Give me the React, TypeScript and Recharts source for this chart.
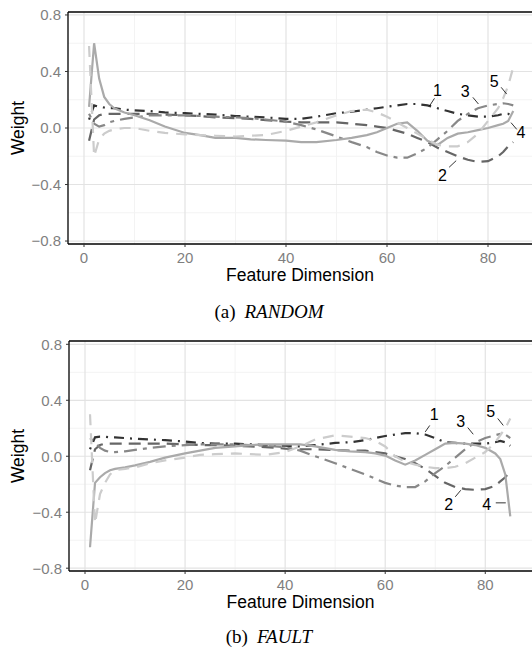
import React from "react";
import {
    LineChart, Line, XAxis, YAxis, CartesianGrid, ReferenceLine, ReferenceDot
} from "recharts";

// feature dimensions sampled along each curve
const DIMS = [1, 2, 3, 4, 5, 6, 8, 10, 13, 16, 20, 23, 26, 30, 33, 36, 40, 43, 46, 50, 53, 56, 58, 60, 62, 64, 66, 68, 70, 72, 74, 76, 78, 80, 82, 83, 84, 85];

// (a) RANDOM - weights of the five components
const RANDOM_1 = [0.06, 0.16, 0.15, 0.145, 0.14, 0.14, 0.13, 0.125, 0.12, 0.11, 0.105, 0.1, 0.095, 0.085, 0.08, 0.075, 0.065, 0.065, 0.08, 0.105, 0.115, 0.13, 0.14, 0.15, 0.16, 0.17, 0.17, 0.16, 0.14, 0.12, 0.1, 0.09, 0.08, 0.08, 0.09, 0.1, 0.1, 0.08];
const RANDOM_2 = [-0.09, 0.06, 0.09, 0.1, 0.1, 0.1, 0.1, 0.1, 0.1, 0.095, 0.09, 0.085, 0.075, 0.07, 0.065, 0.055, 0.045, 0.04, 0.04, 0.04, 0.03, 0.02, 0.01, 0.0, -0.02, -0.04, -0.07, -0.1, -0.14, -0.17, -0.2, -0.225, -0.24, -0.235, -0.2, -0.17, -0.13, -0.1];
const RANDOM_3 = [0.1, 0.03, 0.01, 0.02, 0.04, 0.05, 0.065, 0.075, 0.09, 0.09, 0.09, 0.085, 0.08, 0.075, 0.07, 0.06, 0.045, 0.02, -0.01, -0.06, -0.1, -0.135, -0.17, -0.195, -0.21, -0.21, -0.18, -0.14, -0.08, -0.02, 0.05, 0.1, 0.14, 0.16, 0.17, 0.175, 0.17, 0.16];
const RANDOM_4 = [0.15, 0.6, 0.35, 0.22, 0.17, 0.14, 0.11, 0.09, 0.055, 0.01, -0.035, -0.05, -0.07, -0.07, -0.08, -0.085, -0.09, -0.1, -0.1, -0.085, -0.07, -0.05, -0.03, 0.0, 0.03, 0.04, -0.02, -0.09, -0.12, -0.07, -0.04, -0.03, -0.015, 0.0, 0.02, 0.03, 0.05, 0.12];
const RANDOM_5 = [0.58, -0.2, -0.08, -0.04, -0.02, -0.01, 0.0, 0.0, -0.02, -0.035, -0.045, -0.05, -0.055, -0.06, -0.055, -0.05, -0.02, 0.01, 0.04, 0.09, 0.12, 0.13, 0.11, 0.08, 0.04, 0.0, -0.04, -0.08, -0.12, -0.13, -0.13, -0.1, -0.04, 0.05, 0.14, 0.21, 0.3, 0.43];

// (b) FAULT
const FAULT_1 = [0.05, 0.135, 0.14, 0.14, 0.135, 0.135, 0.13, 0.125, 0.12, 0.115, 0.105, 0.095, 0.09, 0.09, 0.085, 0.08, 0.075, 0.07, 0.08, 0.095, 0.1, 0.115, 0.13, 0.145, 0.155, 0.165, 0.165, 0.155, 0.13, 0.1, 0.095, 0.09, 0.09, 0.09, 0.1, 0.11, 0.1, 0.075];
const FAULT_2 = [-0.1, 0.05, 0.08, 0.09, 0.09, 0.09, 0.09, 0.09, 0.09, 0.09, 0.085, 0.08, 0.08, 0.075, 0.07, 0.065, 0.055, 0.05, 0.05, 0.045, 0.04, 0.04, 0.03, 0.02, 0.0, -0.02, -0.05, -0.09, -0.14, -0.19, -0.22, -0.235, -0.24, -0.235, -0.21, -0.18, -0.15, -0.11];
const FAULT_3 = [0.13, 0.1, 0.06, 0.04, 0.03, 0.03, 0.035, 0.045, 0.06, 0.07, 0.08, 0.085, 0.085, 0.085, 0.08, 0.075, 0.065, 0.04, 0.0, -0.05, -0.09, -0.13, -0.16, -0.19, -0.21, -0.22, -0.22, -0.18, -0.12, -0.07, -0.01, 0.05, 0.1, 0.13, 0.15, 0.16, 0.155, 0.13];
const FAULT_4 = [-0.65, -0.19, -0.15, -0.12, -0.1, -0.09, -0.08, -0.065, -0.04, -0.01, 0.02, 0.04, 0.06, 0.07, 0.08, 0.085, 0.085, 0.085, 0.07, 0.045, 0.035, 0.03, 0.02, 0.005, -0.03, -0.06, -0.03, 0.01, 0.05, 0.09, 0.095, 0.09, 0.08, 0.06, 0.02, -0.02, -0.13, -0.43];
const FAULT_5 = [0.3, -0.48, -0.27, -0.19, -0.13, -0.1, -0.09, -0.08, -0.05, -0.03, -0.01, 0.01, 0.015, 0.02, 0.015, 0.01, 0.03, 0.07, 0.12, 0.15, 0.14, 0.13, 0.11, 0.07, 0.0, -0.04, -0.06, -0.075, -0.085, -0.085, -0.075, -0.05, -0.01, 0.03, 0.1, 0.15, 0.2, 0.27];

const X_TICKS = [0, 20, 40, 60, 80];
const X_MINOR = [10, 30, 50, 70];
const Y_TICKS = [-0.8, -0.4, 0, 0.4, 0.8];
const Y_MINOR = [-0.6, -0.2, 0.2, 0.6];

// direct labels "1".."5" and their leader ticks, in data units
const RANDOM_NOTES = [
    { text: "1", x: 70.0, y: 0.27, from: [69.4, 0.21], to: [68.4, 0.155] },
    { text: "3", x: 75.5, y: 0.262, from: [77.0, 0.217], to: [78.1, 0.17] },
    { text: "5", x: 81.25, y: 0.333, from: [82.6, 0.288], to: [83.7, 0.24] },
    { text: "4", x: 86.5, y: -0.032, from: [84.55, 0.038], to: [85.7, -0.01] },
    { text: "2", x: 71.0, y: -0.333, from: [72.3, -0.278], to: [73.7, -0.231] },
];
const FAULT_NOTES = [
    { text: "1", x: 69.8, y: 0.3, from: [68.9, 0.22], to: [68.0, 0.174] },
    { text: "3", x: 75.1, y: 0.25, from: [76.5, 0.205], to: [77.6, 0.157] },
    { text: "5", x: 81.1, y: 0.318, from: [82.5, 0.27], to: [83.6, 0.22] },
    { text: "2", x: 72.7, y: -0.34, from: [74.0, -0.29], to: [75.1, -0.243] },
    { text: "4", x: 80.3, y: -0.34, from: [82.1, -0.333], to: [84.1, -0.333] },
];

const SERIES = [
    { key: "s1", stroke: "#333333", dash: "2 6 10 6" },
    { key: "s2", stroke: "#666666", dash: "12 7" },
    { key: "s3", stroke: "#888888", dash: "4 6 13 6" },
    { key: "s4", stroke: "#aaaaaa", dash: undefined },
    { key: "s5", stroke: "#cccccc", dash: "11 8" },
];

const SANS = '"Liberation Sans", Arial, Helvetica, sans-serif';

const toRows = (xs: number[], ...cols: number[][]) =>
    xs.map((x, i) => ({ x, s1: cols[0][i], s2: cols[1][i], s3: cols[2][i], s4: cols[3][i], s5: cols[4][i] }));

const fmtWeight = (v: number) => (v === 0 ? "0.0" : (v < 0 ? "\u2212" : "") + Math.abs(v).toFixed(1));

// eslint-disable-next-line @typescript-eslint/no-explicit-any
function WeightPanel({ data, xDomain, yDomain, yAxisWidth, height, labelOffset, notes }: any) {
    return (
        <LineChart width={532} height={height} data={data} margin={{ top: 12, right: 0, bottom: 6, left: 0 }}>
            <CartesianGrid horizontalValues={Y_MINOR} verticalValues={X_MINOR} stroke="#f3f3f3" strokeWidth={1} />
            <CartesianGrid horizontalValues={Y_TICKS} verticalValues={X_TICKS} stroke="#e3e3e3" strokeWidth={1.2} />
            <XAxis
                type="number"
                dataKey="x"
                domain={xDomain}
                allowDataOverflow
                ticks={X_TICKS}
                height={40}
                tickSize={3}
                tickMargin={5}
                axisLine={{ stroke: "#000", strokeWidth: 1.3 }}
                tickLine={{ stroke: "#333" }}
                tick={{ fontSize: 15, fill: "#7f7f7f", fontFamily: SANS }}
                label={{ value: "Feature Dimension", position: "insideBottom", offset: labelOffset, fill: "#000", fontSize: 17.5, fontFamily: SANS }}
            />
            <YAxis
                type="number"
                domain={yDomain}
                allowDataOverflow
                ticks={Y_TICKS}
                width={yAxisWidth}
                tickSize={3}
                tickMargin={4}
                tickFormatter={fmtWeight}
                axisLine={{ stroke: "#000", strokeWidth: 1.3 }}
                tickLine={{ stroke: "#333" }}
                tick={{ fontSize: 15, fill: "#7f7f7f", fontFamily: SANS }}
                label={{ value: "Weight", angle: -90, position: "insideLeft", offset: 18, fill: "#000", fontSize: 17.5, fontFamily: SANS, style: { textAnchor: "middle" } }}
            />
            <ReferenceLine y={yDomain[1]} stroke="#000" strokeWidth={1.3} ifOverflow="visible" />
            {SERIES.map((s) => (
                <Line
                    key={s.key}
                    type="linear"
                    dataKey={s.key}
                    stroke={s.stroke}
                    strokeWidth={2.2}
                    strokeDasharray={s.dash}
                    dot={false}
                    activeDot={false}
                    isAnimationActive={false}
                />
            ))}
            {/* eslint-disable-next-line @typescript-eslint/no-explicit-any */}
            {notes.map((n: any) => (
                <ReferenceLine
                    key={`seg-${n.text}`}
                    segment={[{ x: n.from[0], y: n.from[1] }, { x: n.to[0], y: n.to[1] }]}
                    stroke="#000"
                    strokeWidth={0.8}
                    ifOverflow="visible"
                />
            ))}
            {/* eslint-disable-next-line @typescript-eslint/no-explicit-any */}
            {notes.map((n: any) => (
                <ReferenceDot
                    key={`lbl-${n.text}`}
                    x={n.x}
                    y={n.y}
                    r={0}
                    fill="none"
                    stroke="none"
                    ifOverflow="visible"
                    label={{ value: n.text, position: "center", fill: "#000", fontSize: 16, fontFamily: SANS }}
                />
            ))}
        </LineChart>
    );
}

export default function App() {
    const randomRows = toRows(DIMS, RANDOM_1, RANDOM_2, RANDOM_3, RANDOM_4, RANDOM_5);
    const faultRows = toRows(DIMS, FAULT_1, FAULT_2, FAULT_3, FAULT_4, FAULT_5);
    return (
        <div style={{ position: "absolute", left: 0, top: 0, width: 532, height: 649, background: "#fff" }}>
            <div style={{ position: "absolute", left: 0, top: 0 }}>
                <WeightPanel
                    data={randomRows}
                    xDomain={[-3.17, 88.71]}
                    yDomain={[-0.821, 0.821]}
                    yAxisWidth={68}
                    height={290}
                    labelOffset={3}
                    notes={RANDOM_NOTES}
                />
            </div>
            <div style={{ position: "absolute", left: 0, top: 329 }}>
                <WeightPanel
                    data={faultRows}
                    xDomain={[-3.2, 89.34]}
                    yDomain={[-0.82, 0.8236]}
                    yAxisWidth={69}
                    height={288}
                    labelOffset={3}
                    notes={FAULT_NOTES}
                />
            </div>
            <svg width={532} height={649} style={{ position: "absolute", left: 0, top: 0, pointerEvents: "none" }}>
                <text x={269} y={318} textAnchor="middle" fontFamily='"Liberation Serif", "Times New Roman", serif' fontSize={19} fill="#000">
                    <tspan>(a)</tspan>
                    <tspan dx={9} fontStyle="italic">RANDOM</tspan>
                </text>
                <text x={269} y={643} textAnchor="middle" fontFamily='"Liberation Serif", "Times New Roman", serif' fontSize={19} fill="#000">
                    <tspan>(b)</tspan>
                    <tspan dx={9} fontStyle="italic">FAULT</tspan>
                </text>
            </svg>
        </div>
    );
}
